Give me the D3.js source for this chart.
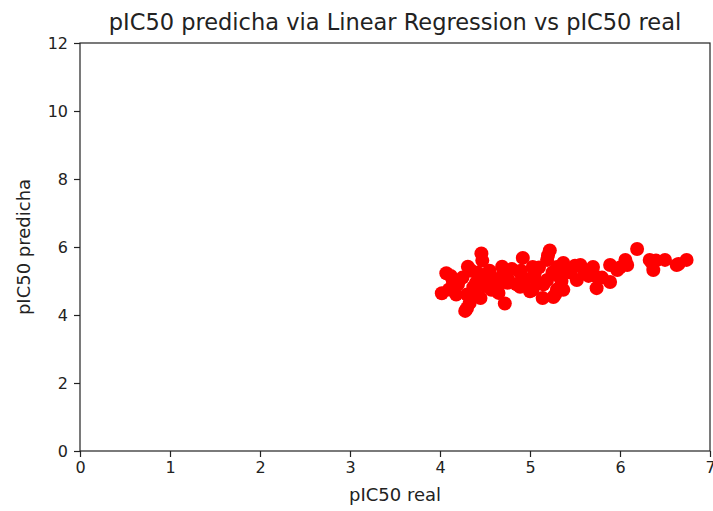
<!DOCTYPE html>
<html>
<head>
<meta charset="utf-8">
<script src="https://cdn.jsdelivr.net/npm/d3@7"></script>
<style>
  body { margin: 0; background: #fff; }
  svg text { font-family: "DejaVu Sans", sans-serif; fill: #222; }
</style>
</head>
<body>
<div id="chart"></div>
<script>
// pIC50 real (x) vs pIC50 predicha (y)
var realVals = [4.02, 4.07, 4.14, 4.30, 4.31, 4.37, 4.46, 4.42, 4.52, 4.57, 4.69, 4.72, 4.76, 4.67,
  4.89, 4.92, 4.89, 5.03, 5.08, 5.03, 5.22, 5.19, 5.19, 5.14, 5.30, 5.33, 5.26, 5.37, 5.37, 5.52,
  5.56, 5.70, 5.74, 5.74, 5.89, 5.89, 5.97, 6.06, 6.08, 6.19, 6.33, 6.37, 6.50, 6.63, 6.74,
  4.20, 4.25, 4.30, 4.35, 4.40, 4.45, 4.28, 4.33, 4.50, 4.55, 4.60, 4.65, 4.70, 4.80, 4.85, 4.95,
  5.00, 5.05, 5.10, 5.15, 5.25, 5.30, 5.35, 5.45, 5.60, 5.65, 5.80, 6.00, 6.35, 6.40, 6.65,
  4.10, 4.12, 4.18, 4.38, 4.47, 4.75, 4.90, 5.20, 5.28, 5.40, 5.50];
var predVals = [4.64, 5.23, 5.03, 4.20, 5.42, 4.82, 5.81, 5.24, 5.13, 4.74, 5.42, 4.34, 5.03, 4.94,
  4.83, 5.68, 5.24, 5.41, 4.94, 4.74, 5.90, 5.62, 5.03, 4.50, 5.41, 5.12, 4.53, 4.74, 5.53, 5.03,
  5.47, 5.41, 5.12, 4.79, 5.47, 4.97, 5.32, 5.62, 5.47, 5.94, 5.62, 5.32, 5.62, 5.47, 5.62,
  4.90, 5.10, 4.60, 5.30, 4.95, 4.50, 4.12, 4.35, 4.85, 5.30, 5.05, 4.65, 5.20, 5.35, 4.90, 5.05,
  4.70, 5.20, 5.40, 4.90, 5.25, 4.75, 5.00, 5.25, 5.30, 5.15, 5.10, 5.40, 5.55, 5.60, 5.50,
  4.75, 5.15, 4.60, 4.70, 5.60, 4.95, 5.30, 5.75, 4.60, 5.35, 5.45];
var xTicks = [0, 1, 2, 3, 4, 5, 6, 7];
var yTicks = [0, 2, 4, 6, 8, 10, 12];

var W = 713, H = 511;
var margin = {top: 43, right: 3, bottom: 60, left: 80},
    width = W - margin.left - margin.right,
    height = H - margin.top - margin.bottom;

var svg = d3.select("#chart").append("svg")
  .attr("width", W)
  .attr("height", H);

var g = svg.append("g")
  .attr("transform", "translate(" + margin.left + "," + margin.top + ")");

var x = d3.scaleLinear().domain([0, 7]).range([0, width]);
var y = d3.scaleLinear().domain([0, 12]).range([height, 0]);

// points
g.selectAll(".pt")
  .data(realVals.map(function(v, i) { return [v, predVals[i]]; }))
  .enter().append("circle")
  .attr("class", "pt")
  .attr("cx", function(d) { return x(d[0]); })
  .attr("cy", function(d) { return y(d[1]); })
  .attr("r", 7)
  .attr("fill", "#ff0000");

// axes
var xAxis = g.append("g")
  .attr("transform", "translate(0," + height + ")")
  .call(d3.axisBottom(x).tickValues(xTicks).tickFormat(d3.format("d")).tickSize(6).tickPadding(5));
var yAxis = g.append("g")
  .call(d3.axisLeft(y).tickValues(yTicks).tickFormat(d3.format("d")).tickSize(6).tickPadding(6));

[xAxis, yAxis].forEach(function(a) {
  a.select(".domain").remove();
  a.selectAll("line").attr("stroke", "#222").attr("stroke-width", 1.2);
  a.selectAll("text").style("font-size", "16px").attr("fill", "#222");
});

// frame
g.append("rect")
  .attr("width", width)
  .attr("height", height)
  .attr("fill", "none")
  .attr("stroke", "#222")
  .attr("stroke-width", 1.2);

// title and labels
svg.append("text")
  .attr("x", margin.left + width / 2)
  .attr("y", 30)
  .attr("text-anchor", "middle")
  .style("font-size", "22.5px")
  .text("pIC50 predicha via Linear Regression vs pIC50 real");

svg.append("text")
  .attr("x", margin.left + width / 2)
  .attr("y", 501)
  .attr("text-anchor", "middle")
  .style("font-size", "18px")
  .text("pIC50 real");

svg.append("text")
  .attr("transform", "translate(30," + (margin.top + height / 2) + ") rotate(-90)")
  .attr("text-anchor", "middle")
  .style("font-size", "18px")
  .text("pIC50 predicha");
</script>
</body>
</html>
